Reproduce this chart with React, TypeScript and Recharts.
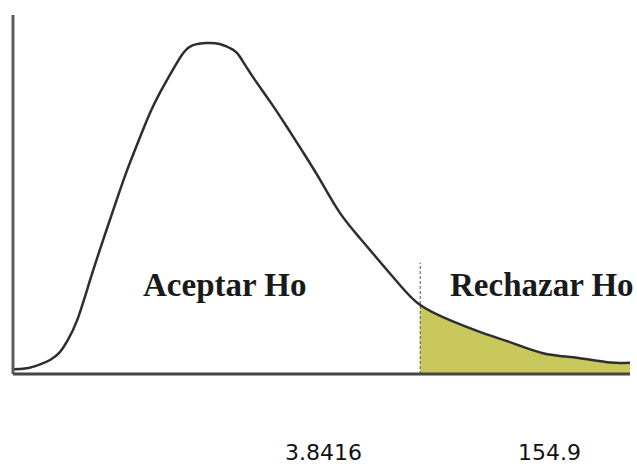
import React from "react";
import { ComposedChart, Line, Area, XAxis, YAxis, ReferenceLine } from "recharts";

// curva de densidad (x, altura relativa)
const X_VALUES = [
  0, 1.9, 3.2, 4.4, 6.0, 7.6, 8.8, 10.4, 12.5, 14.6, 16.9, 18.5, 20.6, 22.2, 23.8, 25.9, 27.6,
  29.2, 31.4, 33.5, 35.7, 36.8, 38.9, 41.7, 44.4, 47.0, 49.8, 52.9, 56.2, 59.5, 62.7, 66.0,
  70.8, 76.2, 81.0, 85.9, 91.4, 96.3, 100,
];
const DENSITY = [
  1.3, 1.5, 2.0, 2.7, 3.9, 6.1, 9.2, 15.0, 26.2, 37.3, 49.0, 56.8, 66.0, 72.7, 78.3, 84.7, 89.4,
  91.6, 92.2, 91.9, 90.3, 88.3, 82.7, 75.8, 68.8, 61.8, 54.0, 45.1, 37.9, 31.2, 24.8, 19.2,
  15.0, 11.4, 8.6, 5.8, 4.5, 3.3, 3.1,
];
const CRITICAL_X = 66.0;
const CRITICAL_TOP = 31;

const REGION_LABELS = ["Aceptar Ho", "Rechazar Ho"];
const VALUE_LABELS = ["3.8416", "154.9"];

const data = X_VALUES.map((x, i) => ({
  x,
  y: DENSITY[i],
  tail: x >= CRITICAL_X ? DENSITY[i] : null,
}));

const serif = "'Liberation Serif', 'Times New Roman', serif";
const sans = "'DejaVu Sans', Verdana, sans-serif";

export default function App() {
  return (
    <div style={{ position: "absolute", left: 0, top: 0, width: 637, height: 464, background: "#fff" }}>
      <ComposedChart width={637} height={464} data={data} margin={{ top: 15, left: 12, right: 7, bottom: 89 }}>
        <XAxis
          dataKey="x"
          type="number"
          domain={[0, 100]}
          tick={false}
          height={1}
          axisLine={{ stroke: "#454545", strokeWidth: 3 }}
          tickLine={false}
        />
        <YAxis
          type="number"
          domain={[0, 100]}
          tick={false}
          width={1}
          axisLine={{ stroke: "#5a5a5a", strokeWidth: 3 }}
          tickLine={false}
        />
        <Area
          dataKey="tail"
          type="natural"
          stroke="none"
          fill="#c9c85c"
          fillOpacity={1}
          isAnimationActive={false}
        />
        <ReferenceLine
          segment={[
            { x: CRITICAL_X, y: 0 },
            { x: CRITICAL_X, y: CRITICAL_TOP },
          ]}
          stroke="#555"
          strokeWidth={1}
          strokeDasharray="3 2"
        />
        <Line
          dataKey="y"
          type="natural"
          stroke="#2e2e2e"
          strokeWidth={2.5}
          dot={false}
          isAnimationActive={false}
        />
      </ComposedChart>
      <svg width={637} height={464} style={{ position: "absolute", left: 0, top: 0, pointerEvents: "none" }}>
        <text x={143} y={296} fontFamily={serif} fontWeight="bold" fontSize={33} fill="#1a1a1a">
          {REGION_LABELS[0]}
        </text>
        <text x={450} y={296} fontFamily={serif} fontWeight="bold" fontSize={33} fill="#1a1a1a">
          {REGION_LABELS[1]}
        </text>
        <text x={285} y={460} fontFamily={sans} fontSize={22} fill="#111">
          {VALUE_LABELS[0]}
        </text>
        <text x={518} y={460} fontFamily={sans} fontSize={22} fill="#111">
          {VALUE_LABELS[1]}
        </text>
      </svg>
    </div>
  );
}
